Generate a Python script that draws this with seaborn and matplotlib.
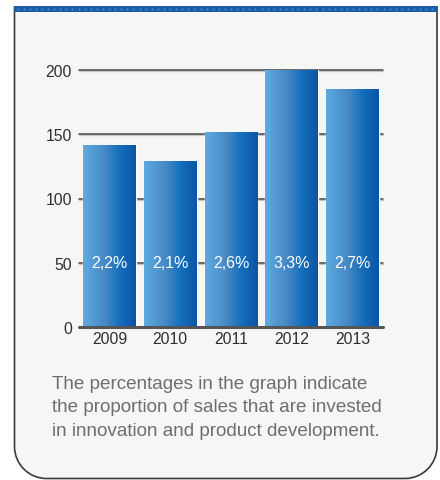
import numpy as np
import pandas as pd
import matplotlib
matplotlib.use("Agg")
import matplotlib.pyplot as plt
import seaborn as sns
from matplotlib.path import Path
from matplotlib.patches import PathPatch, Rectangle
from matplotlib.colors import LinearSegmentedColormap

# R&D spending per year, with its share of sales
years = ["2009", "2010", "2011", "2012", "2013"]
spend = [142, 129, 152, 200, 185]
share_labels = ["2,2%", "2,1%", "2,6%", "3,3%", "2,7%"]
y_ticks = [0, 50, 100, 150, 200]
caption = ("The percentages in the graph indicate\n"
           "the proportion of sales that are invested\n"
           "in innovation and product development.")

df = pd.DataFrame({"year": years, "spend": spend})

sns.set_theme(style="white")
plt.rcParams["font.family"] = ["Liberation Sans", "DejaVu Sans"]

W, H = 440, 481
fig = plt.figure(figsize=(W / 100, H / 100), dpi=100)
fig.patch.set_facecolor("white")

# Background layer in pixel coordinates: card with rounded bottom corners
bg = fig.add_axes([0, 0, 1, 1], zorder=0)
bg.set_xlim(0, W)
bg.set_ylim(H, 0)
bg.axis("off")

x0, x1, y0, y1, r = 14.5, 437, 8, 479.5, 32
k = 0.5523 * r
verts = [
    (x0, y0), (x0, y1 - r),
    (x0, y1 - r + k), (x0 + r - k, y1), (x0 + r, y1),
    (x1 - r, y1),
    (x1 - r + k, y1), (x1, y1 - r + k), (x1, y1 - r),
    (x1, y0), (x0, y0),
]
codes = [Path.MOVETO, Path.LINETO,
         Path.CURVE4, Path.CURVE4, Path.CURVE4,
         Path.LINETO,
         Path.CURVE4, Path.CURVE4, Path.CURVE4,
         Path.LINETO, Path.CLOSEPOLY]
bg.add_patch(PathPatch(Path(verts, codes), facecolor="#f6f6f6",
                       edgecolor="#3a3a3a", lw=1.2))

# Blue header strip with a fine dotted texture
bg.add_patch(Rectangle((x0 - 0.5, 6.5), x1 - x0 + 1.5, 6.5,
                       facecolor="#1a5ea8", edgecolor="none"))
dots_x = np.arange(x0 + 3, x1, 6.1)
bg.plot(dots_x, np.full_like(dots_x, 9.8), ls="none", marker="s",
        ms=1.0, color="#6f9fd2", mew=0)

# Caption text below the chart
bg.text(52, 408, caption, ha="left", va="center", fontsize=13.6,
        color="#6e6e6e", linespacing=1.5)

# Main bar chart
ax = fig.add_axes([79 / W, 1 - 328 / H, 304 / W, 257 / H], zorder=1)
ax.set_facecolor("none")
sns.barplot(data=df, x="year", y="spend", ax=ax, width=0.87,
            color="#3f88c5", saturation=1, zorder=3)

ax.set_xlim(-0.5, 4.5)
ax.set_ylim(0, 200)
ax.set_yticks(y_ticks)
ax.set_xlabel("")
ax.set_ylabel("")
for s in ax.spines.values():
    s.set_visible(False)

# Horizontal gridlines with a soft shadow beneath
for t in y_ticks[1:]:
    ax.axhline(t - 0.8, color="#c4c4c4", lw=0.9, zorder=1, clip_on=False)
    ax.axhline(t, color="#444444", lw=1.1, zorder=2, clip_on=False)
ax.axhline(0, color="#555555", lw=2.2, zorder=4, clip_on=False)

ax.tick_params(axis="both", length=0, labelsize=11.3, colors="#2e2e2e")
ax.tick_params(axis="y", pad=5)
ax.tick_params(axis="x", pad=3)

# Horizontal light-to-dark blue gradient across each bar
cmap = LinearSegmentedColormap.from_list(
    "bar_blue",
    [(0.0, "#5eabe0"), (0.42, "#4688c4"), (0.68, "#1570bd"), (1.0, "#0b54a3")])
grad = np.linspace(0, 1, 256).reshape(1, -1)
for bar in ax.patches:
    bx, by = bar.get_x(), bar.get_y()
    bw, bh = bar.get_width(), bar.get_height()
    im = ax.imshow(grad, cmap=cmap, aspect="auto", zorder=3.5,
                   extent=(bx, bx + bw, by, by + bh), origin="lower",
                   interpolation="bilinear")
    im.set_clip_path(bar)
ax.set_xlim(-0.5, 4.5)
ax.set_ylim(0, 200)

for i, lab in enumerate(share_labels):
    ax.text(i, 50, lab, ha="center", va="center", color="white",
            fontsize=11.5, zorder=5)

fig.savefig("out.png", dpi=100)
